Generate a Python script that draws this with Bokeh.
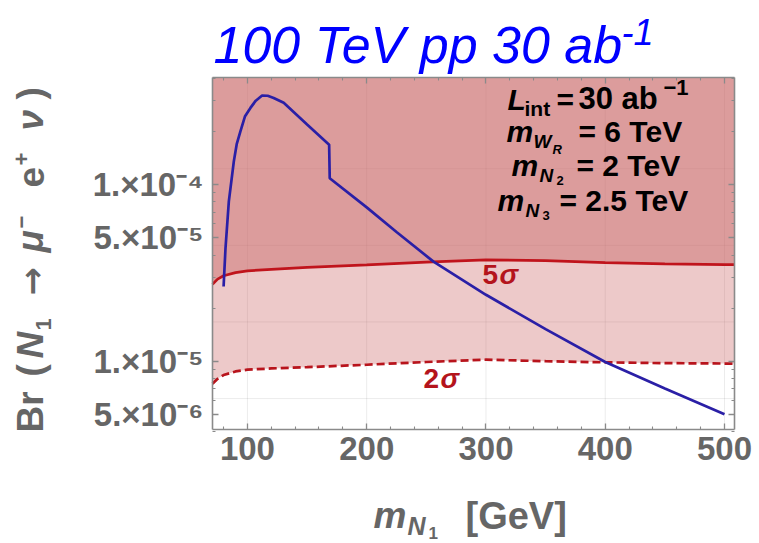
import math
from bokeh.plotting import figure
from bokeh.models import Label, FixedTicker, LinearAxis, LogAxis, Range1d, Grid
from bokeh.embed import file_html
from bokeh.resources import INLINE

# ---------------- data ----------------
mass_blue = [80, 81.6, 84.4, 88.6, 91, 94.1, 98, 102.5, 107, 112.3, 117, 122, 130.4,
             150, 168.5, 169, 200, 225, 256, 300, 350, 400, 450, 500]
br_blue = [2.65e-5, 4.37e-5, 8.06e-5, 1.36e-4, 1.7e-4, 2.01e-4, 2.45e-4, 2.73e-4, 3.0e-4,
           3.21e-4, 3.2e-4, 3.11e-4, 2.92e-4, 2.2e-4, 1.69e-4, 1.09e-4, 7.45e-5, 5.4e-5,
           3.67e-5, 2.38e-5, 1.52e-5, 9.9e-6, 7.0e-6, 5.0e-6]

mass_sig = [70.7, 75, 80, 90, 100, 120, 150, 200, 250, 300, 350, 400, 450, 500, 508.4]
br_5sigma = [2.73e-5, 2.92e-5, 3.05e-5, 3.18e-5, 3.25e-5, 3.32e-5, 3.4e-5, 3.52e-5, 3.65e-5,
             3.75e-5, 3.72e-5, 3.62e-5, 3.56e-5, 3.53e-5, 3.53e-5]
br_2sigma = [7.45e-6, 7.95e-6, 8.35e-6, 8.75e-6, 8.95e-6, 9.1e-6, 9.25e-6, 9.55e-6, 9.9e-6,
             1.02e-5, 1.0e-5, 9.85e-6, 9.75e-6, 9.7e-6, 9.7e-6]

x_ticks = [100, 200, 300, 400, 500]
x_minor = [80, 120, 140, 160, 180, 220, 240, 260, 280, 320, 340, 360, 380, 420, 440, 460, 480]
y_ticks = [5e-6, 1e-5, 5e-5, 1e-4]
y_tick_labels = ["5.×10⁻⁶", "1.×10⁻⁵", "5.×10⁻⁵", "1.×10⁻⁴"]
y_minor = [4e-6, 6e-6, 7e-6, 8e-6, 9e-6, 2e-5, 3e-5, 4e-5, 6e-5, 7e-5, 8e-5, 9e-5,
           2e-4, 3e-4, 4e-4]
y_grid = [1.234e-4, 4.54e-5, 1.67e-5, 6.14e-6]

X_MIN, X_MAX = 70.7, 508.4
Y_MIN, Y_MAX = 4.1e-6, 4.06e-4

# ---------------- geometry (canvas pixels) ----------------
W, H = 759, 543
BL, BR, BT, BB = 212, 734, 77, 429      # plot box edges
FONT = "Liberation Sans"
GRAY = "#666666"
AX = "#8a8a8a"
K_BASE = 0.34                           # baseline correction (fraction of font size)

# the frame covers the whole canvas; the plot box is placed by the view ranges
sx = (BR - BL) / (X_MAX - X_MIN)
x_lo = X_MIN - BL / sx
x_hi = X_MAX + (W - BR) / sx
ly0, ly1 = math.log10(Y_MIN), math.log10(Y_MAX)
ppd = (BB - BT) / (ly1 - ly0)
y_lo = 10 ** (ly0 - (H - BB) / ppd)
y_hi = 10 ** (ly1 + BT / ppd)

p = figure(width=W, height=H, x_range=Range1d(x_lo, x_hi), y_range=Range1d(y_lo, y_hi),
           y_axis_type="log", output_backend="svg", toolbar_location=None,
           x_axis_location=None, y_axis_location=None,
           min_border=0, min_border_left=0, min_border_right=0,
           min_border_top=0, min_border_bottom=0)
p.outline_line_color = None
p.background_fill_color = "white"
p.border_fill_color = "white"
# drop the default (unbounded) grids
p.center = [r for r in p.center if not isinstance(r, Grid)]

# grid lines, limited to the plot box
p.segment(x0=x_ticks, y0=[Y_MIN] * len(x_ticks), x1=x_ticks, y1=[Y_MAX] * len(x_ticks),
          line_color="#000000", line_alpha=0.08, line_width=1)
p.segment(x0=[X_MIN] * len(y_grid), y0=y_grid, x1=[X_MAX] * len(y_grid), y1=y_grid,
          line_color="#000000", line_alpha=0.08, line_width=1)

# filled regions
p.varea(x=mass_sig, y1=br_5sigma, y2=[Y_MAX] * len(mass_sig),
        fill_color=(200, 100, 100), fill_alpha=0.64)
p.varea(x=mass_sig, y1=br_2sigma, y2=br_5sigma,
        fill_color=(200, 90, 90), fill_alpha=0.33)

# curves
p.line(mass_sig, br_2sigma, line_color="#b8141c", line_width=2.7, line_dash="8 4")
p.line(mass_sig, br_5sigma, line_color="#c0141c", line_width=2.7)
p.line(mass_blue, br_blue, line_color="#2a1fa6", line_width=2.7)


def style_axis(ax):
    ax.axis_line_color = AX
    ax.axis_line_width = 1.6
    ax.major_tick_line_color = AX
    ax.minor_tick_line_color = AX
    ax.major_tick_line_width = 1.3
    ax.minor_tick_line_width = 1.1
    ax.major_tick_in = 6
    ax.major_tick_out = 0
    ax.minor_tick_in = 3
    ax.minor_tick_out = 0
    ax.major_label_text_font = FONT
    ax.major_label_text_font_style = "bold"
    ax.major_label_text_font_size = "33px"
    ax.major_label_text_color = GRAY


xa = LinearAxis(ticker=FixedTicker(ticks=x_ticks, minor_ticks=x_minor),
                fixed_location=Y_MIN, bounds=(X_MIN, X_MAX))
style_axis(xa)
xa.major_label_standoff = 7
p.add_layout(xa, "below")

ya = LogAxis(ticker=FixedTicker(ticks=y_ticks, minor_ticks=y_minor),
             fixed_location=X_MIN, bounds=(Y_MIN, Y_MAX))
style_axis(ya)
ya.major_label_standoff = 9
ya.major_label_overrides = {t: s for t, s in zip(y_ticks, y_tick_labels)}
p.add_layout(ya, "left")

top = LinearAxis(ticker=FixedTicker(ticks=x_ticks, minor_ticks=x_minor),
                 fixed_location=Y_MAX, bounds=(X_MIN, X_MAX))
style_axis(top)
top.major_label_overrides = {t: "" for t in x_ticks}
p.add_layout(top, "above")

right = LogAxis(ticker=FixedTicker(ticks=y_ticks, minor_ticks=y_minor),
                fixed_location=X_MAX, bounds=(Y_MIN, Y_MAX))
style_axis(right)
right.major_label_overrides = {t: "" for t in y_ticks}
p.add_layout(right, "right")


# ---------------- texts (canvas pixel positions of the baseline start) ----------------
def put(txt, cx, cy, size, style="bold", color="#000000", angle=0.0, font=FONT):
    if angle == 0.0:
        cy = cy - K_BASE * size
    else:
        cx = cx - K_BASE * size
    p.add_layout(Label(x=cx, y=H - cy, x_units="screen", y_units="screen",
                       text=txt, text_font=font, text_font_size=f"{size}px",
                       text_font_style=style, text_color=color, angle=angle,
                       text_align="left", text_baseline="alphabetic"))


# title
put("100 TeV pp 30 ab", 213, 62, 52, "italic", "#0000ff")
put("-1", 621, 44, 36, "italic", "#0000ff")

# annotation block
put("L", 507, 109, 30, "bold italic")
put("int", 524, 115, 21, "bold")
put("=", 556, 109, 30, "bold")
put("30 ab", 578, 109, 31, "bold")
put("−1", 663, 94, 22, "bold")

put("m", 506, 141, 30, "bold italic")
put("W", 533, 147, 19, "bold italic")
put("R", 552, 153, 13, "bold italic")
put("= 6 TeV", 578, 141, 30, "bold")

put("m", 511, 175, 30, "bold italic")
put("N", 539, 181, 19, "bold italic")
put("2", 556, 184, 13, "bold")
put("= 2 TeV", 576, 175, 30, "bold")

put("m", 497, 210, 30, "bold italic")
put("N", 525, 216, 19, "bold italic")
put("3", 542, 219, 13, "bold")
put("= 2.5 TeV", 559, 210, 30, "bold")

# sigma labels
put("5", 482, 284, 28, "bold", "#b4141c")
put("σ", 499, 284, 28, "bold italic", "#b4141c")
put("2", 423, 388, 28, "bold", "#b4141c")
put("σ", 440, 388, 28, "bold italic", "#b4141c")

# x axis label
put("m", 373, 528, 37, "bold italic", GRAY)
put("N", 407, 534, 25, "bold italic", GRAY)
put("1", 428, 538, 17, "bold", GRAY)
put("[GeV]", 465, 528, 38, "bold", GRAY)

# y axis label (rotated; each piece starts at the given canvas y, reading upward)
ylab = [("Br", 432, 37, "bold", 0, FONT), ("(", 376, 37, "bold", 0, FONT),
        ("N", 358, 37, "bold italic", 0, FONT), ("1", 330, 22, "bold", 7, FONT),
        ("→", 295, 34, "bold", 0, "DejaVu Sans"), ("μ", 252, 37, "bold italic", 0, FONT),
        ("−", 228, 22, "bold", -15, FONT), ("e", 187, 37, "bold", 0, FONT),
        ("+", 165, 22, "bold", -15, FONT), ("ν", 130, 37, "bold italic", 0, FONT),
        (")", 99, 37, "bold", 0, FONT)]
for txt, start, sz, st, shift, fnt in ylab:
    put(txt, 43 + shift, start, sz, st, GRAY, angle=math.pi / 2, font=fnt)

open("out.html", "w").write(file_html(p, INLINE))
